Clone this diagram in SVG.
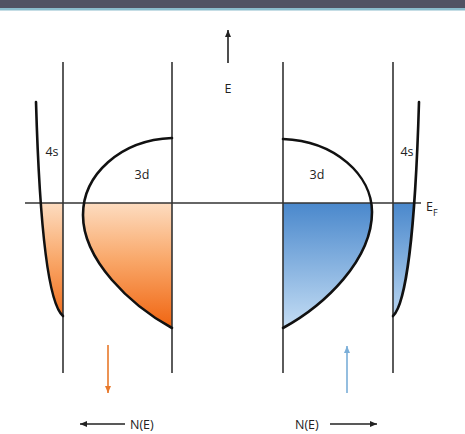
<svg xmlns="http://www.w3.org/2000/svg" width="465" height="434" viewBox="0 0 465 434">
<defs>
<style>
.ax{stroke:#333;stroke-width:1.6;fill:none}
.cv{stroke:#111;stroke-width:2.6;fill:none;stroke-linecap:round}
.lb{font-family:"Open Sans","Liberation Sans",sans-serif;font-size:12.5px;fill:#222}
</style>
<linearGradient id="og" gradientUnits="userSpaceOnUse" x1="0" y1="203" x2="0" y2="328">
<stop offset="0" stop-color="#fddcc0"/>
<stop offset="0.45" stop-color="#f9a86a"/>
<stop offset="1" stop-color="#f06410"/>
</linearGradient>
<linearGradient id="bg" gradientUnits="userSpaceOnUse" x1="0" y1="203" x2="0" y2="328">
<stop offset="0" stop-color="#4a88cc"/>
<stop offset="1" stop-color="#c4ddf4"/>
</linearGradient>
<clipPath id="below"><rect x="0" y="203" width="465" height="140"/></clipPath>
<marker id="ah" markerWidth="8" markerHeight="8" refX="7" refY="4" orient="auto" markerUnits="userSpaceOnUse">
<path d="M0,1 L7,4 L0,7 Z" fill="#222"/>
</marker>
<marker id="aho" markerWidth="8" markerHeight="8" refX="7" refY="4" orient="auto" markerUnits="userSpaceOnUse">
<path d="M0,1 L7,4 L0,7 Z" fill="#e8782a"/>
</marker>
<marker id="ahb" markerWidth="8" markerHeight="8" refX="7" refY="4" orient="auto" markerUnits="userSpaceOnUse">
<path d="M0,1 L7,4 L0,7 Z" fill="#7aaed8"/>
</marker>
</defs>
<rect x="0" y="0" width="465" height="434" fill="#fff"/>
<rect x="0" y="0" width="465" height="8" fill="#515263"/>
<rect x="0" y="8" width="465" height="2.5" fill="#8bbccc"/>

<g id="fills" clip-path="url(#below)">
<path d="M36,102 C40,240 50,305 63,316 L63,102 Z" fill="url(#og)"/>
<path d="M172,138 C120,140 83,175 83,215 C83,260 130,305 172,328 Z" fill="url(#og)"/>
<path d="M283,139 C335,141 372,175 372,212 C372,260 325,305 283,328 Z" fill="url(#bg)"/>
<path d="M419,102 C415,240 405,305 393,316 L393,102 Z" fill="url(#bg)"/>
</g>

<g id="axes">
<line class="ax" x1="63" y1="62" x2="63" y2="373"/>
<line class="ax" x1="172" y1="62" x2="172" y2="373"/>
<line class="ax" x1="283" y1="62" x2="283" y2="373"/>
<line class="ax" x1="393" y1="62" x2="393" y2="373"/>
<line class="ax" x1="25" y1="203" x2="421" y2="203"/>
</g>

<g id="left-4s">
<path class="cv" d="M36,102 C40,240 50,305 63,316"/>
<text class="lb" x="52" y="156" text-anchor="middle">4s</text>
</g>
<g id="left-3d">
<path class="cv" d="M172,138 C120,140 83,175 83,215 C83,260 130,305 172,328"/>
<text class="lb" x="142" y="179" text-anchor="middle">3d</text>
</g>
<g id="right-3d">
<path class="cv" d="M283,139 C335,141 372,175 372,212 C372,260 325,305 283,328"/>
<text class="lb" x="317" y="179" text-anchor="middle">3d</text>
</g>
<g id="right-4s">
<path class="cv" d="M419,102 C415,240 405,305 393,316"/>
<text class="lb" x="407" y="156" text-anchor="middle">4s</text>
</g>
<g id="fermi-label">
<text class="lb" x="426" y="211">E<tspan font-size="9" dy="5">F</tspan></text>
</g>

<g id="connectors">
<line x1="228" y1="63" x2="228" y2="30" stroke="#222" stroke-width="1.6" marker-end="url(#ah)"/>
<line x1="108" y1="345" x2="108" y2="393" stroke="#e8782a" stroke-width="1.6" marker-end="url(#aho)"/>
<line x1="347" y1="393" x2="347" y2="346" stroke="#7aaed8" stroke-width="1.6" marker-end="url(#ahb)"/>
<line x1="125" y1="424" x2="80" y2="424" stroke="#222" stroke-width="1.6" marker-end="url(#ah)"/>
<line x1="330" y1="424" x2="377" y2="424" stroke="#222" stroke-width="1.6" marker-end="url(#ah)"/>
</g>

<g id="labels">
<text class="lb" x="228" y="93" text-anchor="middle">E</text>
<text class="lb" x="130" y="428.5">N(E)</text>
<text class="lb" x="295" y="428.5">N(E)</text>
</g>
</svg>
